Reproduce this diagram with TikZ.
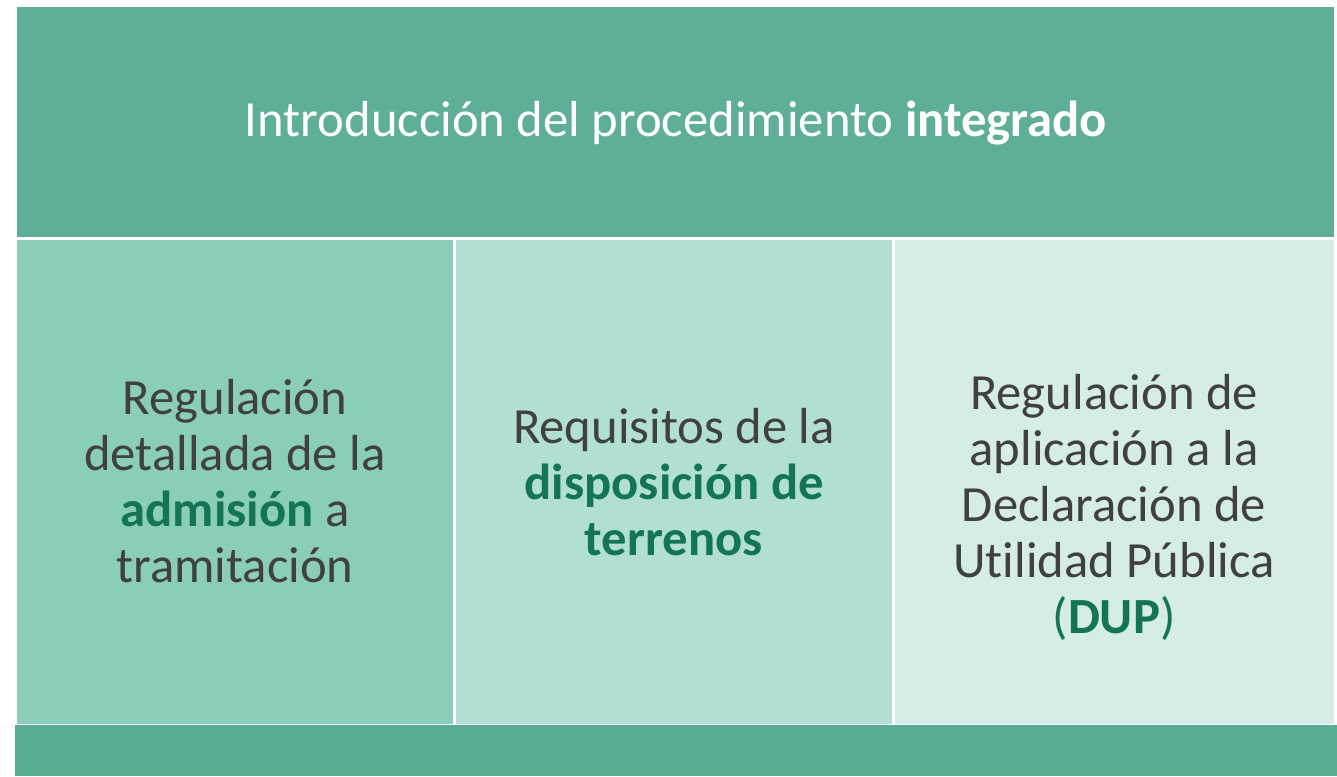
\documentclass[tikz,border=0pt]{standalone}
\usepackage{fontspec}
\setmainfont[Ligatures=NoCommon]{Carlito}
\definecolor{topgreen}{HTML}{5EAE98}
\definecolor{cellone}{HTML}{8ACDB9}
\definecolor{celltwo}{HTML}{B2DFD3}
\definecolor{cellthree}{HTML}{D6ECE6}
\definecolor{basegreen}{HTML}{57AB94}
\definecolor{darkgreen}{HTML}{137456}
\definecolor{textgray}{HTML}{404040}
\newcommand{\verde}[1]{\textcolor{darkgreen}{\textbf{#1}}}

\begin{document}
\begin{tikzpicture}[x=0.75pt,y=-0.75pt]
\tikzstyle{every node}+=[inner sep=0pt, align=center, text=textgray]
\tikzstyle{celltext}=[font=\fontsize{38}{42}\selectfont]
\useasboundingbox (0,0) rectangle (1337,776);
% bands and cells
\fill [topgreen] (17,7) rectangle (1334,237);
\fill [cellone] (17,240) rectangle (453,724);
\fill [celltwo] (456,240) rectangle (892,724);
\fill [cellthree] (895,240) rectangle (1334,724);
\fill [basegreen] (15,725) rectangle (1337,776);
% texts
\node [celltext, text=white] (title) at (676,123) {Introducción del procedimiento \textbf{integrado}};
\node [celltext] (admision) at (235,481) {Regulación\\detallada de la\\\verde{admisión} a\\tramitación};
\node [celltext] (terrenos) at (674,482) {Requisitos de la\\\verde{disposición de}\\\verde{terrenos}};
\node [celltext] (dup) at (1114,507) {Regulación de\\aplicación a la\\Declaración de\\Utilidad Pública\\\textcolor{darkgreen}{(\textbf{DUP})}};
\end{tikzpicture}
\end{document}
